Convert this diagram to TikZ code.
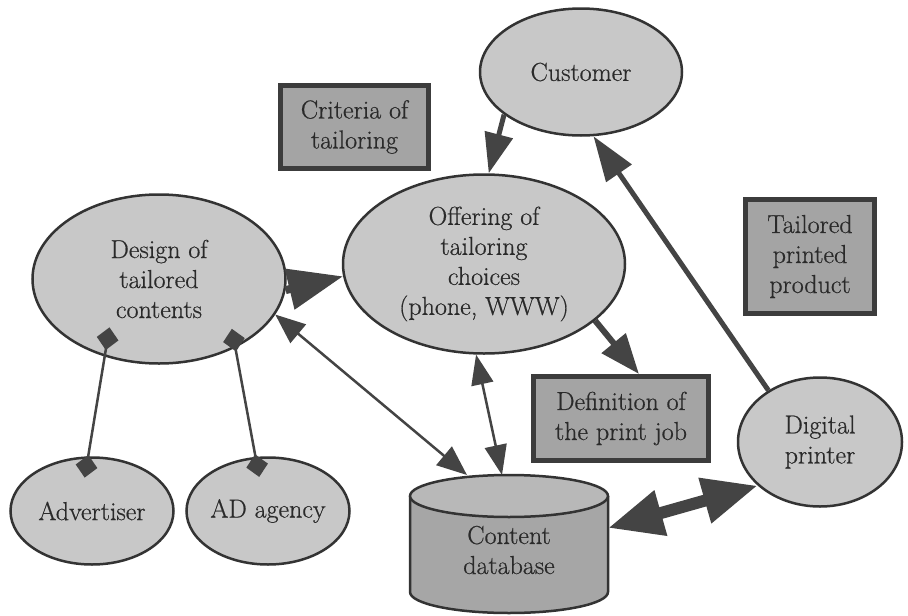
\documentclass[tikz,border=0pt]{standalone}
\usepackage{fontspec}
\newfontfamily\lmdark{Latin Modern Roman}[FakeBold=0.6]
\usetikzlibrary{shapes.geometric,arrows.meta}
\definecolor{edgec}{HTML}{333333}
\definecolor{ellfill}{HTML}{C8C8C8}
\definecolor{boxfill}{HTML}{A4A4A4}
\definecolor{boxedge}{HTML}{3C3C3C}
\definecolor{txtc}{HTML}{2A2A2A}
\definecolor{arrc}{HTML}{444444}
\definecolor{dbtopc}{HTML}{B8B8B8}
\definecolor{dbbodyc}{HTML}{A6A6A6}
\tikzset{
  lbl/.style={text=txtc, align=center, font=\lmdark\fontsize{26}{30}\selectfont},
  ell/.style={lbl, ellipse, draw=edgec, line width=2.5pt, fill=ellfill, inner sep=0pt},
  boxn/.style={lbl, rectangle, draw=boxedge, line width=5pt, fill=boxfill, inner sep=0pt},
  conn/.style={draw=arrc, fill=arrc},
  diam/.style={draw=arrc, line width=2.5pt},
  dmd/.style={diamond, fill=arrc, draw=none, inner sep=0pt, minimum width=24pt, minimum height=23pt, sloped},
}
\begin{document}
\begin{tikzpicture}[x=1pt,y=-1pt]
\useasboundingbox (0,0) rectangle (908,616);
\fill[white] (0,0) rectangle (908,616);

% nodes
\node[ell, minimum width=202pt, minimum height=127pt] (cust) at (581,72) {Customer};
\node[boxn, minimum width=148pt, minimum height=83pt] (crit) at (354.5,127) {Criteria of\\tailoring};
\node[ell, minimum width=253pt, minimum height=169pt] (design) at (159,279) {Design of\\tailored\\contents};
\node[ell, minimum width=282pt, minimum height=179pt] (offer) at (484,264) {Offering of\\tailoring\\choices\\(phone, WWW)};
\node[boxn, minimum width=129pt, minimum height=114pt] (tailor) at (810,256.5) {Tailored\\printed\\product};
\node[boxn, minimum width=175pt, minimum height=84pt] (defn) at (621,418.5) {Definition of\\the print job};
\node[ell, minimum width=164pt, minimum height=129pt] (dig) at (820,442) {Digital\\printer};
\node[ell, minimum width=163pt, minimum height=107pt] (adv) at (92,511) {Advertiser};
\node[ell, minimum width=163pt, minimum height=107pt] (adag) at (268,511) {AD agency};

% cylinder (content database)
\node[rectangle, minimum width=198pt, minimum height=138pt, inner sep=0pt, outer sep=0pt] (db) at (509,544) {};
\fill[dbbodyc] (410,496) -- (410,592) arc[start angle=180,end angle=360,x radius=99pt,y radius=21pt] -- (608,496) -- cycle;
\draw[edgec, line width=2.5pt] (410,496) -- (410,592) arc[start angle=180,end angle=360,x radius=99pt,y radius=21pt] -- (608,496);
\filldraw[fill=dbtopc, draw=edgec, line width=2.5pt] (509,496) ellipse[x radius=99pt,y radius=21pt];
\node[lbl] (dbt) at (509,550) {Content\\database};

% connectors
\draw[conn, line width=8pt, -{Triangle[length=55pt,width=40pt]}] (design.-5) -- (offer.185.7);
\draw[conn, line width=5pt, -{Triangle[length=40pt,width=28pt]}] (cust.209.7) -- (offer.87);
\draw[conn, line width=5pt, -{Triangle[length=45pt,width=30pt]}] (dig.135.5) -- (cust.281.3);
\draw[conn, line width=6pt, -{Triangle[length=40pt,width=30pt]}] (offer.-27.4) -- (defn.68);
\draw[conn, line width=2.5pt, {Triangle[length=30pt,width=24pt]}-{Triangle[length=30pt,width=24pt]}] (design.-17) -- ([xshift=-42pt]db.north);
\draw[conn, line width=2.5pt, {Triangle[length=30pt,width=22pt]}-{Triangle[length=30pt,width=22pt]}] (offer.265.1) -- ([xshift=-7pt]db.north);
\draw[conn, line width=12pt, {Triangle[length=55pt,width=44pt]}-{Triangle[length=55pt,width=44pt]}] ([yshift=16pt]db.east) -- (dig.215.2);
\draw[diam, shorten <=-18pt, shorten >=-10pt] (design.235.6) -- (adv.94.5)
  node[dmd, pos=-0.18] (d1) {} node[dmd, pos=1.10] (d2) {};
\draw[diam, shorten <=-8pt, shorten >=-9pt] (design.318.5) -- (adag.103.1)
  node[dmd, pos=-0.07] (d3) {} node[dmd, pos=1.08] (d4) {};
\end{tikzpicture}
\end{document}
